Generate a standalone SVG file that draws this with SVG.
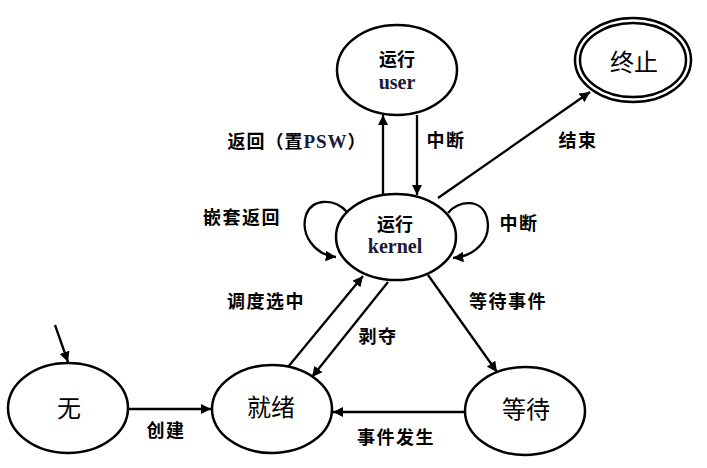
<svg xmlns="http://www.w3.org/2000/svg" width="707" height="468" viewBox="0 0 707 468">
<style>
.n{fill:none;stroke:#000;stroke-width:2.5}
.c{fill:none;stroke:#000;stroke-width:2.3}
.lb{font-family:"Noto Sans CJK SC","Noto Sans",sans-serif;font-size:18px;font-weight:bold;fill:#000;text-anchor:middle;letter-spacing:1.5px}
.nt{font-family:"Noto Sans CJK SC","Noto Sans",sans-serif;font-size:24px;fill:#000;text-anchor:middle}
.rt{font-family:"Noto Sans CJK SC","Noto Sans",sans-serif;font-size:18px;font-weight:bold;fill:#000;text-anchor:middle}
.en{font-family:"Liberation Serif","DejaVu Serif",serif;font-size:20px;font-weight:bold;fill:#1a1a3a;text-anchor:middle}
</style>
<defs>
<marker id="ah" viewBox="0 0 10 10" refX="10" refY="5" markerWidth="4.5" markerHeight="4.5" orient="auto" markerUnits="strokeWidth">
<path d="M0,0 L10,5 L0,10 z" fill="#000"/>
</marker>
</defs>
<rect width="707" height="468" fill="#fff"/>
<g id="connectors">
<line class="c" x1="55" y1="325" x2="68" y2="362" marker-end="url(#ah)"/>
<line class="c" x1="128" y1="409" x2="211" y2="409" marker-end="url(#ah)"/>
<line class="c" x1="465" y1="412" x2="333" y2="412" marker-end="url(#ah)"/>
<line class="c" x1="288" y1="367" x2="363" y2="276" marker-end="url(#ah)"/>
<line class="c" x1="388" y1="282" x2="312" y2="377" marker-end="url(#ah)"/>
<line class="c" x1="428" y1="275" x2="497" y2="372" marker-end="url(#ah)"/>
<line class="c" x1="383" y1="195" x2="383" y2="115" marker-end="url(#ah)"/>
<line class="c" x1="417" y1="115" x2="417" y2="195" marker-end="url(#ah)"/>
<line class="c" x1="438" y1="198" x2="590" y2="92" marker-end="url(#ah)"/>
<path class="c" d="M347,212 C335,198 312,198 306,215 C300,235 315,255 336,257" marker-end="url(#ah)"/>
<path class="c" d="M448,213 C458,200 482,198 487,218 C492,240 475,256 453,258" marker-end="url(#ah)"/>
</g>
<g id="wu">
<ellipse class="n" cx="68" cy="408" rx="60" ry="45"/>
<text class="nt" x="69" y="417" style="font-family:'Liberation Serif','Noto Sans CJK SC',serif">无</text>
</g>
<g id="jiuxu">
<ellipse class="n" cx="272" cy="409" rx="60" ry="44"/>
<text class="nt" x="271" y="416">就绪</text>
</g>
<g id="dengdai">
<ellipse class="n" cx="525" cy="411" rx="60" ry="44"/>
<text class="nt" x="526" y="418">等待</text>
</g>
<g id="kernel">
<ellipse class="n" cx="396" cy="237" rx="60" ry="43"/>
<text class="rt" x="395" y="231">运行</text>
<text class="en" x="395" y="253">kernel</text>
</g>
<g id="user">
<ellipse class="n" cx="397" cy="70" rx="60" ry="45"/>
<text class="rt" x="397" y="66">运行</text>
<text class="en" x="397" y="89">user</text>
</g>
<g id="zhongzhi">
<ellipse class="n" cx="633" cy="60" rx="58" ry="42"/>
<ellipse class="n" cx="633" cy="60" rx="53" ry="37"/>
<text class="nt" x="634" y="71">终止</text>
</g>
<g id="labels">
<text class="lb" x="166" y="437">创建</text>
<text class="lb" x="396" y="444">事件发生</text>
<text class="lb" x="266" y="308">调度选中</text>
<text class="lb" x="378" y="343">剥夺</text>
<text class="lb" x="508" y="308">等待事件</text>
<text class="lb" x="242" y="224">嵌套返回</text>
<text class="lb" x="519" y="230">中断</text>
<text class="lb" x="446" y="147">中断</text>
<text class="lb" x="578" y="147">结束</text>
<text x="297" y="148" style="font-family:'Noto Sans CJK SC',sans-serif;font-size:18px;font-weight:bold;text-anchor:middle;letter-spacing:1px">返回（置<tspan style="font-family:'Liberation Serif',serif;fill:#1a1a3a;font-size:19px">PSW</tspan>）</text>
</g>
</svg>
